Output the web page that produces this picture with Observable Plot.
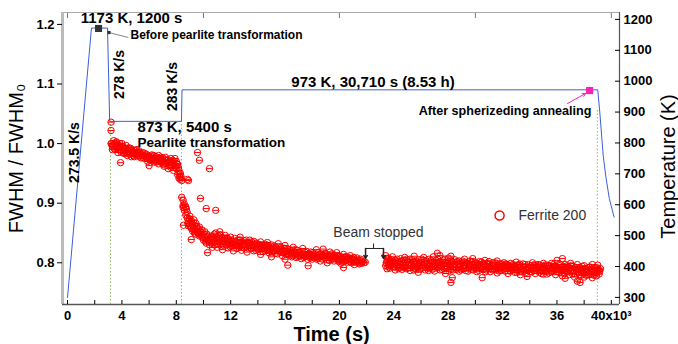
<!DOCTYPE html>
<html><head><meta charset="utf-8">
<script src="https://cdn.jsdelivr.net/npm/d3@7"></script>
<script src="https://cdn.jsdelivr.net/npm/@observablehq/plot@0.6"></script>
<style>
body{margin:0;background:#fff;}
</style></head><body><div id="chart"></div>
<script>
// ---- tick labels ----
const fwhmTicks = [0.8, 0.9, 1.0, 1.1, 1.2];
const tempTicks = [300, 400, 500, 600, 700, 800, 900, 1000, 1100, 1200];
const timeLabelTicks = [0, 4, 8, 12, 16, 20, 24, 28, 32, 36, 40];
const timeMinorTicks = [0, 2, 4, 6, 8, 10, 12, 14, 16, 18, 20, 22, 24, 26, 28, 30, 32, 34, 36, 38, 40];
const timeTopTicks = [0, 10, 20, 30, 40];

// ---- temperature profile (time in 10^3 s, K) ----
const tempProfile = [[0,300],[1.76,1172],[2.94,1172],[3.1,870],[8.38,870],[8.42,972],[39.0,972],[39.15,900],[39.4,760],[39.6,690],[39.85,620],[40.2,560]];
// dotted stage markers (time, temperature where they start)
const stageLines = [[3.16,870],[8.38,870],[38.97,905]];

// ---- Ferrite 200 FWHM/FWHM0 (time in 10^3 s) ----
const ferriteStage1 = [[3.2,1.036],[3.2,1.022],[3.2,1.0],[3.3,0.995],[3.3,0.99],[3.4,1.005],[3.4,0.995],[3.5,0.99],[3.5,0.998],[3.6,1.003],[3.6,0.992],[3.7,0.985],[3.8,0.997],[3.8,0.99],[3.9,0.968],[3.9,0.993],[4.0,1.0],[4.0,0.988],[4.1,0.994],[4.2,0.99],[4.2,0.983],[4.3,0.997],[4.4,0.987],[4.4,0.98],[4.5,0.993],[4.6,0.985],[4.7,0.99],[4.7,0.978],[4.8,0.984],[4.9,0.989],[4.9,0.978],[5.0,0.982],[5.1,0.99],[5.2,0.979],[5.2,0.985],[5.3,0.983],[5.4,0.976],[5.5,0.985],[5.6,0.98],[5.7,0.975],[5.8,0.982],[5.9,0.97],[6.0,0.963],[6.0,0.978],[6.1,0.976],[6.2,0.971],[6.2,0.981],[6.3,0.975],[6.4,0.969],[6.5,0.978],[6.6,0.972],[6.7,0.966],[6.7,0.98],[6.8,0.973],[6.9,0.968],[7.0,0.976],[7.1,0.97],[7.1,0.962],[7.2,0.977],[7.3,0.968],[7.4,0.958],[7.4,0.973],[7.5,0.965],[7.6,0.975],[7.6,0.96],[7.7,0.968],[7.8,0.955],[7.8,0.97],[7.9,0.963],[7.9,0.975],[8.0,0.97],[8.0,0.958],[8.1,0.965],[8.1,0.948],[8.2,0.955],[8.2,0.942],[8.3,0.95],[8.3,0.94],[8.4,0.938],[8.4,0.91],[8.5,0.905],[8.5,0.896],[8.5,0.893],[8.6,0.888],[8.6,0.898],[8.7,0.894],[8.7,0.88],[8.53,0.863],[8.82,0.94],[8.9,0.938],[9.1,0.839],[9.56,0.985],[9.7,0.972],[10.44,0.958],[9.78,0.908],[10.2,0.891],[10.9,0.888]];
const ferriteStage1b = [[3.25,1.0],[3.35,0.998],[3.45,0.991],[3.55,1.002],[3.65,0.996],[3.75,0.993],[3.85,1.0],[3.95,0.985],[4.05,0.995],[4.15,0.985],[4.25,0.992],[4.35,0.985],[4.45,0.99],[4.55,0.982],[4.65,0.992],[4.75,0.986],[4.85,0.98],[4.95,0.985],[5.05,0.988],[5.15,0.98],[5.25,0.988],[5.35,0.979],[5.45,0.982],[5.55,0.976],[5.65,0.984],[5.75,0.978],[5.85,0.975],[5.95,0.98],[6.05,0.972],[6.15,0.979],[6.25,0.974],[6.35,0.98],[6.45,0.972],[6.55,0.969],[6.65,0.976],[6.75,0.971],[6.85,0.977],[6.95,0.972],[7.05,0.965],[7.15,0.973],[7.25,0.967],[7.35,0.972],[7.45,0.968],[7.55,0.97],[7.65,0.963],[7.75,0.972],[7.85,0.966],[7.95,0.96],[8.05,0.966],[8.15,0.96],[8.25,0.948],[8.35,0.945]];
const ferriteStage2 = [[8.8,0.885],[8.8,0.875],[8.9,0.87],[8.9,0.862],[9.0,0.878],[9.0,0.866],[9.1,0.858],[9.1,0.871],[9.2,0.865],[9.2,0.853],[9.3,0.872],[9.3,0.86],[9.4,0.855],[9.4,0.848],[9.5,0.862],[9.6,0.85],[9.6,0.857],[9.7,0.845],[9.7,0.86],[9.8,0.852],[9.9,0.843],[9.9,0.855],[10.0,0.848],[10.0,0.838],[10.1,0.852],[10.2,0.84],[10.2,0.833],[10.3,0.845],[10.3,0.817],[10.4,0.836],[10.5,0.842],[10.6,0.833],[10.6,0.845],[10.7,0.838],[10.8,0.848],[10.8,0.83],[10.9,0.85],[11.0,0.838],[11.0,0.826],[11.1,0.845],[11.2,0.835],[11.2,0.852],[11.3,0.828],[11.4,0.842],[11.4,0.822],[11.5,0.836],[11.6,0.846],[11.7,0.83],[11.8,0.84],[11.8,0.825],[11.9,0.834],[12.0,0.843],[12.1,0.828],[12.2,0.836],[12.2,0.82],[12.3,0.841],[12.4,0.83],[12.5,0.838],[12.6,0.826],[12.7,0.834],[12.7,0.843],[12.8,0.821],[12.9,0.831],[13.0,0.837],[13.1,0.826],[13.2,0.834],[13.2,0.818],[13.3,0.829],[13.4,0.838],[13.5,0.824],[13.6,0.831],[13.7,0.82],[13.7,0.836],[13.8,0.827],[13.9,0.833],[14.0,0.822],[14.1,0.829],[14.2,0.814],[14.2,0.835],[14.3,0.825],[14.4,0.83],[14.5,0.82],[14.6,0.827],[14.7,0.834],[14.8,0.817],[14.9,0.824],[15.0,0.83],[15.0,0.81],[15.1,0.821],[15.2,0.828],[15.3,0.816],[15.4,0.823],[15.5,0.832],[15.6,0.819],[15.7,0.826],[15.8,0.812],[15.9,0.82],[16.0,0.829],[16.0,0.806],[16.1,0.816],[16.2,0.796],[16.2,0.823],[16.3,0.813],[16.4,0.82],[16.5,0.81],[16.6,0.826],[16.7,0.815],[16.8,0.809],[16.9,0.821],[17.0,0.812],[17.1,0.818],[17.2,0.807],[17.3,0.824],[17.4,0.814],[17.5,0.81],[17.6,0.819],[17.7,0.795],[17.8,0.812],[17.9,0.818],[18.0,0.806],[18.1,0.815],[18.2,0.81],[18.3,0.822],[18.4,0.808],[18.5,0.814],[18.6,0.803],[18.7,0.811],[18.8,0.823],[18.9,0.809],[19.0,0.815],[19.1,0.8],[19.2,0.81],[19.3,0.818],[19.4,0.806],[19.5,0.812],[19.6,0.803],[19.7,0.81],[19.8,0.817],[19.9,0.805],[20.0,0.811],[20.1,0.799],[20.2,0.807],[20.3,0.814],[20.3,0.792],[20.4,0.804],[20.5,0.81],[20.6,0.801],[20.7,0.807],[20.8,0.812],[20.9,0.8],[21.0,0.806],[21.1,0.797],[21.2,0.803],[21.3,0.808],[21.4,0.8],[21.5,0.804],[21.6,0.799],[21.7,0.802],[21.8,0.8]];
const ferriteStage2b = [[8.75,0.89],[8.85,0.866],[8.95,0.874],[9.05,0.86],[9.15,0.867],[9.25,0.858],[9.35,0.85],[9.45,0.866],[9.55,0.853],[9.65,0.848],[9.85,0.846],[10.05,0.843],[10.15,0.836],[10.25,0.848],[10.35,0.838],[10.45,0.83],[10.55,0.838],[10.65,0.826],[10.75,0.842],[10.85,0.836],[10.95,0.843],[11.05,0.832],[11.15,0.84],[11.25,0.846],[11.35,0.835],[11.45,0.83],[11.55,0.841],[11.65,0.836],[11.75,0.842],[11.85,0.832],[11.95,0.827],[12.05,0.836],[12.15,0.832],[12.25,0.829],[12.35,0.834],[12.45,0.824],[12.55,0.832],[12.65,0.838],[12.75,0.828],[12.85,0.835],[12.95,0.825],[13.05,0.831],[13.15,0.838],[13.25,0.825],[13.35,0.833],[13.45,0.829],[13.55,0.835],[13.65,0.826],[13.75,0.83],[13.85,0.821],[13.95,0.827],[14.05,0.831],[14.15,0.823],[14.25,0.828],[14.35,0.819],[14.45,0.825],[14.55,0.831],[14.65,0.821],[14.75,0.827],[14.85,0.82],[14.95,0.828],[15.05,0.818],[15.15,0.824],[15.25,0.82],[15.35,0.826],[15.45,0.815],[15.55,0.823],[15.65,0.818],[15.75,0.823],[15.85,0.817],[15.95,0.824],[16.05,0.814],[16.15,0.82],[16.25,0.815],[16.35,0.822],[16.45,0.816],[16.55,0.812],[16.65,0.819],[16.75,0.822],[16.85,0.814],[16.95,0.81],[17.05,0.817],[17.15,0.812],[17.25,0.815],[17.35,0.809],[17.45,0.818],[17.55,0.812],[17.65,0.806],[17.75,0.815],[17.85,0.808],[17.95,0.813],[18.05,0.817],[18.15,0.808],[18.25,0.813],[18.35,0.806],[18.45,0.817],[18.55,0.81],[18.65,0.815],[18.75,0.806],[18.85,0.812],[18.95,0.816],[19.05,0.808],[19.15,0.812],[19.25,0.804],[19.35,0.811],[19.45,0.815],[19.55,0.806],[19.65,0.813],[19.75,0.808],[19.85,0.811],[19.95,0.802],[20.05,0.806],[20.15,0.81],[20.25,0.801],[20.35,0.808],[20.45,0.81],[20.55,0.804],[20.65,0.809],[20.75,0.802],[20.85,0.806],[20.95,0.803],[21.05,0.809],[21.15,0.801],[21.25,0.805],[21.35,0.803],[21.45,0.798],[21.55,0.806],[21.65,0.801]];
const ferriteStage3 = [[23.4,0.812],[23.4,0.795],[23.5,0.803],[23.5,0.79],[23.6,0.808],[23.6,0.797],[23.7,0.8],[23.7,0.791],[23.8,0.805],[23.9,0.794],[23.9,0.81],[24.0,0.799],[24.1,0.788],[24.1,0.804],[24.2,0.796],[24.3,0.802],[24.4,0.792],[24.5,0.807],[24.5,0.797],[24.6,0.789],[24.7,0.8],[24.8,0.795],[24.8,0.809],[24.9,0.79],[25.0,0.803],[25.1,0.796],[25.2,0.787],[25.2,0.806],[25.3,0.799],[25.4,0.793],[25.5,0.802],[25.5,0.811],[25.6,0.79],[25.7,0.798],[25.8,0.784],[25.8,0.805],[25.9,0.795],[26.0,0.8],[26.1,0.791],[26.2,0.809],[26.2,0.797],[26.3,0.788],[26.4,0.803],[26.5,0.795],[26.6,0.79],[26.6,0.806],[26.7,0.799],[26.8,0.793],[26.9,0.81],[27.0,0.797],[27.0,0.786],[27.1,0.804],[27.2,0.816],[27.2,0.792],[27.3,0.8],[27.4,0.812],[27.4,0.788],[27.5,0.796],[27.6,0.805],[27.7,0.79],[27.8,0.8],[27.8,0.782],[27.9,0.794],[28.0,0.808],[28.1,0.797],[28.2,0.767],[28.2,0.811],[28.2,0.789],[28.3,0.775],[28.3,0.801],[28.4,0.793],[28.5,0.805],[28.6,0.789],[28.7,0.798],[28.8,0.786],[28.8,0.803],[28.9,0.794],[29.0,0.8],[29.1,0.79],[29.2,0.806],[29.2,0.796],[29.3,0.787],[29.4,0.799],[29.5,0.793],[29.6,0.803],[29.7,0.789],[29.8,0.797],[29.8,0.807],[29.9,0.791],[30.0,0.8],[30.1,0.785],[30.2,0.796],[30.3,0.802],[30.4,0.79],[30.5,0.775],[30.5,0.798],[30.6,0.793],[30.7,0.804],[30.8,0.788],[30.9,0.797],[31.0,0.791],[31.0,0.802],[31.1,0.785],[31.2,0.795],[31.3,0.8],[31.4,0.789],[31.5,0.796],[31.6,0.783],[31.6,0.803],[31.7,0.792],[31.8,0.798],[31.9,0.787],[32.0,0.794],[32.1,0.8],[32.2,0.786],[32.2,0.791],[32.3,0.797],[32.4,0.782],[32.5,0.793],[32.6,0.799],[32.7,0.788],[32.8,0.795],[32.9,0.784],[33.0,0.791],[33.0,0.801],[33.1,0.787],[33.2,0.796],[33.3,0.78],[33.4,0.792],[33.5,0.798],[33.6,0.786],[33.7,0.793],[33.8,0.777],[33.8,0.789],[33.9,0.797],[34.0,0.785],[34.1,0.792],[34.2,0.8],[34.3,0.787],[34.4,0.782],[34.4,0.795],[34.5,0.79],[34.6,0.797],[34.7,0.784],[34.8,0.792],[34.9,0.788],[35.0,0.799],[35.0,0.781],[35.1,0.793],[35.2,0.786],[35.3,0.796],[35.4,0.783],[35.5,0.791],[35.6,0.799],[35.7,0.786],[35.8,0.794],[35.9,0.78],[36.0,0.79],[36.0,0.804],[36.1,0.797],[36.2,0.784],[36.3,0.792],[36.4,0.807],[36.4,0.778],[36.5,0.789],[36.6,0.774],[36.6,0.797],[36.7,0.785],[36.8,0.793],[36.9,0.78],[37.0,0.799],[37.0,0.788],[37.1,0.782],[37.2,0.794],[37.3,0.776],[37.4,0.789],[37.5,0.769],[37.5,0.797],[37.6,0.784],[37.7,0.767],[37.7,0.792],[37.8,0.779],[37.9,0.788],[38.0,0.795],[38.0,0.776],[38.1,0.785],[38.2,0.79],[38.3,0.78],[38.4,0.793],[38.5,0.786],[38.6,0.775],[38.6,0.797],[38.7,0.784],[38.8,0.79],[38.9,0.778],[39.0,0.787],[39.0,0.796],[39.1,0.781],[39.2,0.79],[21.9,0.801]];
const ferriteStage3b = [[23.45,0.8],[23.55,0.806],[23.65,0.793],[23.75,0.803],[23.85,0.797],[23.95,0.801],[24.05,0.793],[24.15,0.799],[24.25,0.806],[24.35,0.79],[24.45,0.8],[24.55,0.803],[24.65,0.796],[24.75,0.792],[24.85,0.8],[24.95,0.806],[25.05,0.791],[25.15,0.801],[25.25,0.795],[25.35,0.805],[25.45,0.788],[25.55,0.797],[25.65,0.803],[25.75,0.792],[25.85,0.799],[25.95,0.79],[26.05,0.806],[26.15,0.796],[26.25,0.802],[26.35,0.793],[26.45,0.798],[26.55,0.787],[26.65,0.796],[26.75,0.804],[26.85,0.789],[26.95,0.8],[27.05,0.793],[27.15,0.8],[27.25,0.806],[27.35,0.795],[27.45,0.801],[27.55,0.789],[27.65,0.798],[27.75,0.806],[27.85,0.791],[27.95,0.8],[28.05,0.786],[28.15,0.795],[28.25,0.803],[28.35,0.788],[28.45,0.798],[28.55,0.792],[28.65,0.802],[28.75,0.792],[28.85,0.797],[28.95,0.788],[29.05,0.803],[29.15,0.795],[29.25,0.791],[29.35,0.8],[29.45,0.786],[29.55,0.797],[29.65,0.794],[29.75,0.801],[29.85,0.788],[29.95,0.795],[30.05,0.792],[30.15,0.799],[30.25,0.787],[30.35,0.795],[30.45,0.801],[30.55,0.789],[30.65,0.797],[30.75,0.785],[30.85,0.793],[30.95,0.799],[31.05,0.794],[31.15,0.79],[31.25,0.788],[31.35,0.796],[31.45,0.8],[31.55,0.79],[31.65,0.795],[31.75,0.786],[31.85,0.793],[31.95,0.798],[32.05,0.789],[32.15,0.794],[32.25,0.798],[32.35,0.79],[32.45,0.796],[32.55,0.786],[32.65,0.792],[32.75,0.797],[32.85,0.789],[32.95,0.794],[33.05,0.784],[33.15,0.792],[33.25,0.798],[33.35,0.788],[33.45,0.785],[33.55,0.793],[33.65,0.797],[33.75,0.784],[33.85,0.792],[33.95,0.788],[34.05,0.795],[34.15,0.785],[34.25,0.791],[34.35,0.797],[34.45,0.787],[34.55,0.794],[34.65,0.789],[34.75,0.796],[34.85,0.782],[34.95,0.791],[35.05,0.788],[35.15,0.796],[35.25,0.781],[35.35,0.79],[35.45,0.795],[35.55,0.785],[35.65,0.792],[35.75,0.797],[35.85,0.788],[35.95,0.793],[36.05,0.785],[36.15,0.79],[36.25,0.797],[36.35,0.786],[36.45,0.794],[36.55,0.782],[36.65,0.79],[36.75,0.795],[36.85,0.786],[36.95,0.791],[37.05,0.795],[37.15,0.787],[37.25,0.782],[37.35,0.792],[37.45,0.785],[37.55,0.79],[37.65,0.78],[37.75,0.787],[37.85,0.794],[37.95,0.783],[38.05,0.789],[38.15,0.779],[38.25,0.786],[38.35,0.792],[38.45,0.781],[38.55,0.789],[38.65,0.785],[38.75,0.779],[38.85,0.792],[38.95,0.784],[39.05,0.789],[39.15,0.786]];

// ---- annotations (time 10^3 s, FWHM-scale y) ----
const notesStart = [
  {t:4.63, f:1.1814, text:"Before pearlite transformation", size:12},
  {t:5.15, f:1.027, text:"873 K, 5400 s", size:15},
  {t:5.15, f:1.001, text:"Pearlite transformation", size:13.5}
];
const notesMiddle = [
  {t:4.71, f:1.2108, text:"1173 K, 1200 s", size:15},
  {t:22.47, f:1.1025, text:"973 K, 30,710 s (8.53 h)", size:15}
];
const notesEnd = [
  {t:38.54, f:1.0556, text:"After spherizeding annealing", size:12.6}
];
const rateNotes = [
  {t:3.79, f:1.116, text:"278 K/s"},
  {t:7.72, f:1.0958, text:"283 K/s"},
  {t:0.51, f:0.985, text:"273.5 K/s"}
];
const axisTitles = [
  {t:-3.75, f:0.975, text:"FWHM / FWHM\u2080"},
  {t:44.2, f:0.9616, text:"Temperature (K)"}
];
const timeTitle = [{t:19.42, f:0.679, text:"Time (s)"}];
const beamNote = [{t:22.87, f:0.8508, text:"Beam stopped"}];
const beamBracket = [{t1:21.92, t2:23.24, tm:22.51, top:0.8324, bar:0.824, tip:0.8072}];
const legendItem = [{t:31.78, f:0.8794, tt:33.17, text:"Ferrite 200"}];
const beforeMarker = [{t:2.28, f:1.1932}];
const beforeLeader = [{t1:3.05, f1:1.1864, t2:4.48, f2:1.178}];
const afterMarker = [{t:38.4, f:1.089}];
const afterArrow = [{t1:36.78, f1:1.0673, t2:38.1, f2:1.0841}];

const SANS = "'Liberation Sans',Arial,sans-serif";
const xDomain = [-0.37, 40.6];
const yDomain = [0.73, 1.22];
// secondary (temperature) axis mapped onto the FWHM scale
const tempToF = d3.scaleLinear().domain([300, 1200]).range([0.7419, 1.2084]);

const circleBar = {
  draw(ctx, size) {
    const r = Math.sqrt(size / Math.PI);
    ctx.moveTo(r, 0); ctx.arc(0, 0, r, 0, 2 * Math.PI);
    ctx.moveTo(-r, 0); ctx.lineTo(r, 0);
  }
};
const ferrite = [...ferriteStage1, ...ferriteStage1b, ...ferriteStage2, ...ferriteStage2b, ...ferriteStage3, ...ferriteStage3b];
const boldText = {text: "text", fontSize: "size", fontWeight: "bold", fontFamily: SANS, fill: "#000"};

const plot = Plot.plot({
  width: 678, height: 344,
  marginLeft: 62, marginRight: 59, marginTop: 12, marginBottom: 40,
  x: {domain: xDomain},
  y: {domain: yDomain},
  style: {fontFamily: SANS, background: "#fff", overflow: "visible"},
  marks: [
    // frame
    Plot.ruleY([yDomain[1]], {stroke: "#aaa", strokeWidth: 1}),
    Plot.ruleX([xDomain[0]], {stroke: "#bbb", strokeWidth: 3}),
    Plot.ruleX([xDomain[1]], {stroke: "#555", strokeWidth: 1.2}),
    Plot.ruleY([yDomain[0]], {stroke: "#555", strokeWidth: 1.5}),
    // stage dotted lines
    Plot.ruleX(stageLines, {x: d => d[0], y1: yDomain[0], y2: d => tempToF(d[1]), stroke: "#8fbf5a", strokeDasharray: "1.5,2", strokeWidth: 1}),
    // temperature profile
    Plot.line(tempProfile, {x: d => d[0], y: d => tempToF(d[1]), stroke: "#3a5fd8", strokeWidth: 1}),
    // data
    Plot.dot(ferrite, {x: d => d[0], y: d => d[1], r: 3.2, symbol: circleBar, stroke: "#ff0000", strokeWidth: 1, fill: "none"}),
    // markers
    Plot.dot(beforeMarker, {x: "t", y: "f", symbol: "square", r: 4, fill: "#333", stroke: "none"}),
    Plot.link(beforeLeader, {x1: "t1", y1: "f1", x2: "t2", y2: "f2", stroke: "#888", strokeWidth: 1}),
    Plot.dot(beforeLeader, {x: "t1", y: "f1", symbol: "square", r: 1.8, fill: "#333", stroke: "none"}),
    Plot.arrow(afterArrow, {x1: "t1", y1: "f1", x2: "t2", y2: "f2", stroke: "#ff1fb4", strokeWidth: 1, headLength: 5}),
    Plot.dot(afterMarker, {x: "t", y: "f", symbol: "square", r: 4, fill: "#ff1fb4", stroke: "none"}),
    // beam bracket
    Plot.link(beamBracket, {x1: "tm", x2: "tm", y1: "top", y2: "bar", stroke: "#222"}),
    Plot.link(beamBracket, {x1: "t1", x2: "t2", y1: "bar", y2: "bar", stroke: "#222"}),
    Plot.arrow(beamBracket, {x1: "t1", x2: "t1", y1: "bar", y2: "tip", stroke: "#222", headLength: 5}),
    Plot.arrow(beamBracket, {x1: "t2", x2: "t2", y1: "bar", y2: "tip", stroke: "#222", headLength: 5}),
    Plot.text(beamNote, {x: "t", y: "f", text: "text", fontSize: 14, fill: "#333", fontFamily: SANS}),
    // legend
    Plot.dot(legendItem, {x: "t", y: "f", r: 4.5, stroke: "#ff0000", fill: "none"}),
    Plot.text(legendItem, {x: "tt", y: "f", text: "text", textAnchor: "start", fontSize: 14, fill: "#333", fontFamily: SANS}),
    // annotations
    Plot.text(notesStart, {x: "t", y: "f", textAnchor: "start", ...boldText}),
    Plot.text(notesMiddle, {x: "t", y: "f", textAnchor: "middle", ...boldText}),
    Plot.text(notesEnd, {x: "t", y: "f", textAnchor: "end", ...boldText}),
    Plot.text(rateNotes, {x: "t", y: "f", text: "text", rotate: -90, fontSize: 14, fontWeight: "bold", fontFamily: SANS, fill: "#000"}),
    // axes
    Plot.axisY(fwhmTicks, {anchor: "left", tickSize: 5, tickPadding: 3, tickFormat: d => d.toFixed(1), fontSize: 13, fontWeight: "bold", label: null}),
    Plot.axisY(tempTicks.map(tempToF), {anchor: "right", tickSize: -5, tickFormat: () => "", label: null}),
    Plot.axisY(tempTicks.map(tempToF), {anchor: "right", tickSize: 0, tickPadding: 4, tickFormat: d => String(Math.round(tempToF.invert(d))), fontSize: 13, fontWeight: "bold", label: null}),
    Plot.axisX(timeMinorTicks, {anchor: "bottom", tickSize: -4, tickFormat: () => "", label: null}),
    Plot.axisX(timeLabelTicks, {anchor: "bottom", tickSize: 0, tickPadding: 6, tickFormat: d => d === 40 ? "40x10\u00b3" : String(d), fontSize: 13, fontWeight: "bold", label: null}),
    Plot.axisX(timeTopTicks, {anchor: "top", tickSize: -5, tickFormat: () => "", label: null, stroke: "#777"}),
    // axis titles
    Plot.text(axisTitles, {x: "t", y: "f", text: "text", rotate: -90, fontSize: 20, fill: "#000", fontFamily: SANS}),
    Plot.text(timeTitle, {x: "t", y: "f", text: "text", fontSize: 20, fontWeight: "bold", fill: "#000", fontFamily: SANS})
  ]
});
document.getElementById("chart").appendChild(plot);
</script>
</body></html>
